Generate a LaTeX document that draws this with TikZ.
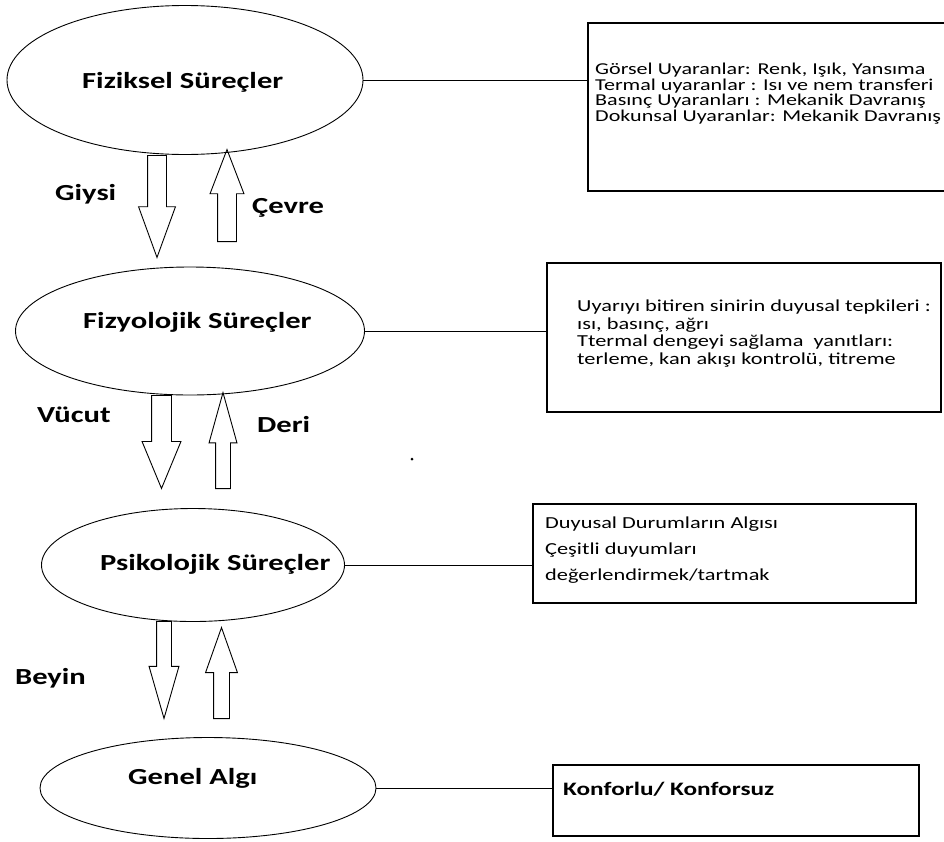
\documentclass[tikz,border=0pt]{standalone}
\usepackage{fontspec}
\setmainfont[FakeStretch=1.33]{Carlito}
\usetikzlibrary{shapes,arrows,positioning}
\tikzstyle{proc} = [ellipse, draw, line width=0.9pt, inner sep=0pt]
\tikzstyle{proctext} = [font=\fontsize{23}{27}\selectfont\bfseries, inner sep=0pt, anchor=base west]
\tikzstyle{lbl} = [font=\fontsize{23}{27}\selectfont\bfseries, inner sep=0pt, anchor=base west]
\tikzstyle{infobox} = [rectangle, draw, line width=1.4pt, inner sep=0pt]
\tikzstyle{infotext} = [align=left, inner sep=0pt, anchor=base west]
\tikzstyle{blockarr} = [single arrow, draw, line width=0.9pt, inner xsep=0pt, single arrow head indent=0pt]
\tikzstyle{line} = [draw, line width=0.9pt]

\begin{document}
\begin{tikzpicture}[x=1pt, y=-1pt]
    \clip (0,0) rectangle (944,841);
    % processes
    \node [proc, minimum width=356pt, minimum height=149pt] (fiz) at (185,80) {};
    \node [proc, minimum width=349pt, minimum height=128pt] (fizy) at (190,331) {};
    \node [proc, minimum width=303pt, minimum height=113pt] (psi) at (193,565) {};
    \node [proc, minimum width=336pt, minimum height=101pt] (genel) at (208,788) {};
    \node [proctext] (fiztxt) at (82,88) {Fiziksel Süreçler};
    \node [proctext] (fizytxt) at (83,328) {Fizyolojik Süreçler};
    \node [proctext] (psitxt) at (100,570) {Psikolojik Süreçler};
    \node [proctext] (geneltxt) at (128,784) {Genel Algı};
    % block arrows
    \node [blockarr, rotate=-90, anchor=tail, minimum height=102pt, inner ysep=9pt, single arrow head extend=9pt, single arrow tip angle=40] (giysiarr) at (157,155) {};
    \node [blockarr, rotate=90, anchor=tail, minimum height=92pt, inner ysep=9pt, single arrow head extend=7.5pt, single arrow tip angle=42] (cevrearr) at (227,242) {};
    \node [blockarr, rotate=-90, anchor=tail, minimum height=93pt, inner ysep=9.5pt, single arrow head extend=9.5pt, single arrow tip angle=45] (vucutarr) at (161.5,395) {};
    \node [blockarr, rotate=90, anchor=tail, minimum height=96pt, inner ysep=7pt, single arrow head extend=6.5pt, single arrow tip angle=31] (deriarr) at (223,489) {};
    \node [blockarr, rotate=-90, anchor=tail, minimum height=97pt, inner ysep=7pt, single arrow head extend=7.5pt, single arrow tip angle=32] (beyinarr) at (164,621) {};
    \node [blockarr, rotate=90, anchor=tail, minimum height=91pt, inner ysep=7.5pt, single arrow head extend=8pt, single arrow tip angle=39] (algiarr) at (221.5,719) {};
    \node [lbl] (giysi) at (55,200) {Giysi};
    \node [lbl] (cevre) at (252,213) {Çevre};
    \node [lbl] (vucut) at (37,422) {Vücut};
    \node [lbl] (deri) at (257,432) {Deri};
    \node [lbl] (beyin) at (15,684) {Beyin};
    \node [circle, fill, inner sep=0pt, minimum size=3pt] (dot) at (412,459) {};
    % boxes
    \node [infobox, minimum width=372pt, minimum height=168pt] (box1) at (774,107) {};
    \node [infobox, minimum width=394pt, minimum height=149pt] (box2) at (744,337.5) {};
    \node [infobox, minimum width=383pt, minimum height=99pt] (box3) at (724.5,553.5) {};
    \node [infobox, minimum width=366pt, minimum height=71pt] (box4) at (736,800.5) {};
    \node [infotext, font=\fontsize{16.6}{15.6}\selectfont] (box1txt) at (595,121.5) {Görsel Uyaranlar: Renk, Işık, Yansıma\\Termal uyaranlar : Isı ve nem transferi\\Basınç Uyaranları : Mekanik Davranış\\Dokunsal Uyaranlar: Mekanik Davranış};
    \node [infotext, font=\fontsize{16.8}{17.4}\selectfont] (box2txt) at (577,364) {Uyarıyı bitiren sinirin duyusal tepkileri :\\ısı, basınç, ağrı\\Ttermal dengeyi sağlama~ yanıtları:\\terleme, kan akışı kontrolü, titreme};
    \node [infotext, font=\fontsize{16.8}{26}\selectfont] (box3txt) at (545,580) {Duyusal Durumların Algısı\\Çeşitli duyumları\\değerlendirmek/tartmak};
    \node [infotext, font=\fontsize{19}{23}\selectfont\bfseries] (box4txt) at (563,795) {Konforlu/ Konforsuz};
    % links
    \path [line] (fiz.east) -- (fiz.east -| box1.west);
    \path [line] (fizy.east) -- (fizy.east -| box2.west);
    \path [line] (psi.east) -- (psi.east -| box3.west);
    \path [line] (genel.east) -- (genel.east -| box4.west);
\end{tikzpicture}
\end{document}
